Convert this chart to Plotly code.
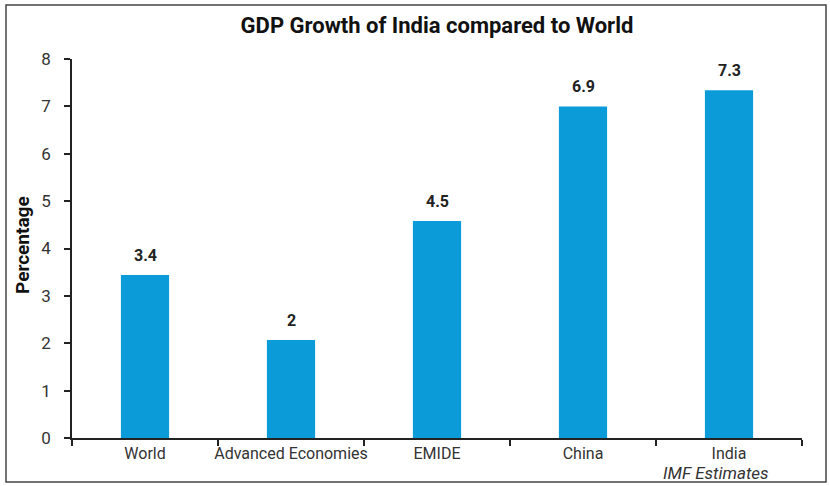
import plotly.graph_objects as go

categories = ["World", "Advanced Economies", "EMIDE", "China", "India"]
values = [3.44, 2.07, 4.58, 7.0, 7.34]
label_texts = ["3.4", "2", "4.5", "6.9", "7.3"]
y_ticks = [0, 1, 2, 3, 4, 5, 6, 7, 8]

FONT = "Roboto, sans-serif"
W, H = 830, 486
ML, MR, MT, MB = 72, 28, 59, 48
PW, PH = W - ML - MR, H - MT - MB

def px_x(x):
    return (x - ML) / PW

def px_y(y):
    return (H - MB - y) / PH

fig = go.Figure(go.Bar(
    x=categories, y=values, marker_color="#0A9BD8", marker_line_width=0,
    hoverinfo="skip",
))
fig.update_traces(width=0.33)

for c, v, t in zip(categories, values, label_texts):
    fig.add_annotation(x=c, y=v, text=f"<b>{t}</b>", showarrow=False,
                       yanchor="bottom", yshift=8,
                       font=dict(family=FONT, size=16, color="#222"))

fig.add_annotation(xref="paper", yref="paper", x=px_x(22), y=px_y(245),
                   xanchor="center", yanchor="middle",
                   text="<b>Percentage</b>", textangle=-90, showarrow=False,
                   font=dict(family=FONT, size=19, color="#111"))
fig.add_annotation(xref="paper", yref="paper", x=px_x(716), y=px_y(473),
                   xanchor="center", yanchor="middle",
                   text="<i>IMF Estimates</i>", showarrow=False,
                   font=dict(family=FONT, size=17, color="#333"))

fig.add_shape(type="rect", xref="paper", yref="paper",
              x0=px_x(6), x1=px_x(826), y0=px_y(482), y1=px_y(5),
              line=dict(color="#444", width=1.5), layer="below")

fig.update_layout(
    width=W, height=H,
    margin=dict(l=ML, r=MR, t=MT, b=MB),
    paper_bgcolor="white", plot_bgcolor="white",
    showlegend=False,
    title=dict(text="<b>GDP Growth of India compared to World</b>",
               x=0.5, xref="paper", xanchor="center",
               y=1 - 25 / H, yref="container", yanchor="middle",
               font=dict(family=FONT, size=22, color="#111")),
    xaxis=dict(showline=True, linecolor="#222", linewidth=2,
               ticks="outside", tickson="boundaries", ticklen=6, tickwidth=1.5,
               tickcolor="#222", showgrid=False, tickangle=0, automargin=False,
               tickfont=dict(family=FONT, size=16, color="#333")),
    yaxis=dict(range=[0, 8], tickvals=y_ticks, showline=True, linecolor="#222",
               linewidth=1.5, ticks="outside", ticklen=6, tickwidth=1.5,
               tickcolor="#222", showgrid=False, zeroline=False, automargin=False,
               ticklabelstandoff=10,
               tickfont=dict(family=FONT, size=17, color="#333")),
)

fig.write_html("out.html", config={"displayModeBar": False},
               post_script="document.body.style.margin='0';")
